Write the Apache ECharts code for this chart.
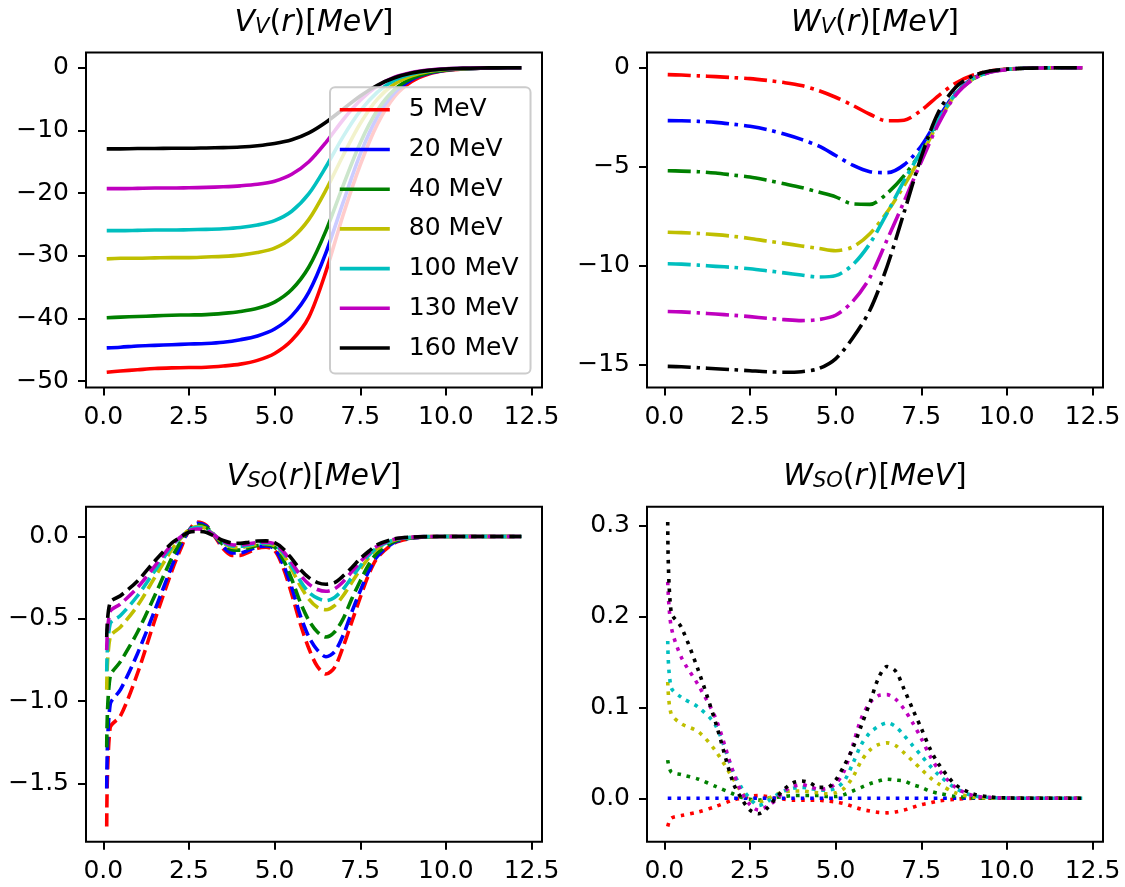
<!DOCTYPE html>
<html>
<head>
<meta charset="utf-8">
<script src="https://cdn.jsdelivr.net/npm/echarts@6/dist/echarts.min.js"></script>
<style>
  html, body { margin: 0; padding: 0; background: #ffffff; }
  #chart { width: 1125px; height: 887px; }
</style>
</head>
<body>
<div id="chart"></div>
<script>
// Radial grids (fm)
const R_V = [0.1, 0.5, 1, 1.5, 2, 2.5, 3, 3.5, 4, 4.5, 5, 5.5, 6, 6.5, 7, 7.5, 8, 8.5, 9, 9.5, 10, 10.5, 11, 11.5, 12.2];
const R_SO = [0.1, 0.2, 0.5, 1.0, 1.5, 2.0, 2.25, 2.5, 2.75, 3.0, 3.25, 3.5, 3.75, 4.0, 4.25, 4.5, 4.75, 5.0, 5.25, 5.5, 5.75, 6.0, 6.25, 6.5, 6.75, 7.0, 7.25, 7.5, 7.75, 8.0, 8.5, 9.0, 9.5, 10, 11, 12.2];

// Projectile energies
const ENERGY_LABELS = ['5 MeV', '20 MeV', '40 MeV', '80 MeV', '100 MeV', '130 MeV', '160 MeV'];

// Tick values
const X_TICKS = [0, 2.5, 5, 7.5, 10, 12.5];
const VV_TICKS = [-50, -40, -30, -20, -10, 0];
const WV_TICKS = [-15, -10, -5, 0];
const VSO_TICKS = [-1.5, -1.0, -0.5, 0];
const WSO_TICKS = [0, 0.1, 0.2, 0.3];

// Real volume potential V_V(r)
const VV_5   = [-48.6, -48.4, -48.2, -48.0, -47.9, -47.85, -47.8, -47.6, -47.3, -46.7, -45.6, -43.5, -39.8, -32.5, -23.5, -15.5, -9.0, -4.6, -2.2, -1.0, -0.45, -0.2, -0.08, -0.03, 0];
const VV_20  = [-44.7, -44.6, -44.4, -44.3, -44.2, -44.1, -44.0, -43.8, -43.4, -42.8, -41.7, -39.6, -35.8, -29.5, -21.5, -13.8, -7.8, -4.0, -1.9, -0.9, -0.4, -0.17, -0.07, -0.03, 0];
const VV_40  = [-39.9, -39.8, -39.7, -39.6, -39.5, -39.45, -39.4, -39.2, -38.9, -38.4, -37.4, -35.4, -31.8, -26.0, -18.8, -12.0, -6.8, -3.5, -1.7, -0.8, -0.35, -0.15, -0.06, -0.02, 0];
const VV_80  = [-30.5, -30.4, -30.4, -30.35, -30.3, -30.3, -30.2, -30.1, -29.9, -29.5, -28.8, -27.2, -24.2, -19.5, -14.0, -8.9, -5.0, -2.6, -1.3, -0.6, -0.27, -0.12, -0.05, -0.02, 0];
const VV_100 = [-26.0, -26.0, -25.95, -25.9, -25.9, -25.85, -25.8, -25.7, -25.5, -25.1, -24.4, -22.9, -20.1, -15.8, -11.0, -6.9, -3.9, -2.0, -1.0, -0.47, -0.21, -0.09, -0.04, -0.02, 0];
const VV_130 = [-19.3, -19.3, -19.25, -19.2, -19.2, -19.15, -19.1, -19.0, -18.85, -18.6, -18.1, -17.0, -15.0, -11.9, -8.3, -5.2, -2.9, -1.5, -0.75, -0.35, -0.16, -0.07, -0.03, -0.01, 0];
const VV_160 = [-12.95, -12.95, -12.9, -12.9, -12.85, -12.85, -12.8, -12.75, -12.65, -12.45, -12.1, -11.5, -10.4, -8.7, -6.6, -4.5, -2.8, -1.6, -0.85, -0.42, -0.2, -0.09, -0.04, -0.02, 0];

// Imaginary volume potential W_V(r)
const WV_5   = [-0.35, -0.37, -0.41, -0.45, -0.50, -0.55, -0.64, -0.75, -0.90, -1.15, -1.49, -1.90, -2.35, -2.68, -2.65, -2.15, -1.42, -0.78, -0.38, -0.17, -0.07, -0.03, -0.01, 0, 0];
const WV_20  = [-2.67, -2.68, -2.71, -2.76, -2.85, -2.96, -3.12, -3.35, -3.62, -3.95, -4.43, -4.92, -5.25, -5.30, -4.90, -3.95, -2.55, -1.28, -0.55, -0.21, -0.08, -0.03, -0.01, 0, 0];
const WV_40  = [-5.20, -5.22, -5.25, -5.32, -5.42, -5.52, -5.68, -5.86, -6.05, -6.28, -6.52, -6.88, -6.90, -6.35, -5.45, -4.25, -2.75, -1.35, -0.58, -0.22, -0.08, -0.03, -0.01, 0, 0];
const WV_80  = [-8.31, -8.33, -8.37, -8.43, -8.51, -8.62, -8.75, -8.87, -9.00, -9.12, -9.24, -9.05, -8.38, -7.30, -5.95, -4.45, -2.75, -1.35, -0.58, -0.22, -0.08, -0.03, -0.01, 0, 0];
const WV_100 = [-9.90, -9.92, -9.97, -10.03, -10.08, -10.15, -10.25, -10.36, -10.47, -10.57, -10.50, -9.95, -8.88, -7.35, -5.70, -4.20, -2.65, -1.32, -0.57, -0.22, -0.08, -0.03, -0.01, 0, 0];
const WV_130 = [-12.31, -12.33, -12.38, -12.44, -12.50, -12.57, -12.65, -12.72, -12.77, -12.72, -12.50, -11.80, -10.60, -8.70, -6.75, -4.75, -2.85, -1.40, -0.60, -0.23, -0.09, -0.03, -0.01, 0, 0];
const WV_160 = [-15.08, -15.10, -15.15, -15.20, -15.25, -15.30, -15.35, -15.38, -15.35, -15.20, -14.70, -13.65, -12.25, -10.05, -7.30, -4.50, -2.25, -1.00, -0.42, -0.17, -0.07, -0.03, -0.01, 0, 0];

// Real spin-orbit potential V_SO(r)
const VSO_5   = [-1.76, -1.16, -1.09, -0.83, -0.51, -0.21, -0.08, 0.035, 0.088, 0.068, 0.0, -0.075, -0.115, -0.115, -0.095, -0.072, -0.066, -0.085, -0.19, -0.35, -0.53, -0.68, -0.79, -0.835, -0.795, -0.67, -0.52, -0.37, -0.23, -0.13, -0.04, -0.012, -0.003, 0, 0, 0];
const VSO_20  = [-1.53, -1.02, -0.93, -0.71, -0.45, -0.18, -0.06, 0.035, 0.08, 0.063, 0.005, -0.062, -0.10, -0.10, -0.083, -0.063, -0.058, -0.075, -0.17, -0.31, -0.48, -0.61, -0.69, -0.73, -0.70, -0.60, -0.46, -0.33, -0.21, -0.12, -0.035, -0.01, -0.003, 0, 0, 0];
const VSO_40  = [-1.28, -0.85, -0.76, -0.58, -0.36, -0.13, -0.035, 0.035, 0.07, 0.055, 0.005, -0.05, -0.08, -0.083, -0.07, -0.055, -0.05, -0.065, -0.14, -0.26, -0.40, -0.51, -0.58, -0.61, -0.58, -0.50, -0.38, -0.27, -0.17, -0.10, -0.03, -0.008, -0.002, 0, 0, 0];
const VSO_80  = [-0.93, -0.61, -0.55, -0.42, -0.25, -0.08, -0.015, 0.04, 0.06, 0.048, 0.005, -0.04, -0.065, -0.068, -0.058, -0.047, -0.044, -0.055, -0.11, -0.20, -0.30, -0.38, -0.43, -0.445, -0.42, -0.36, -0.28, -0.20, -0.13, -0.075, -0.022, -0.006, -0.001, 0, 0, 0];
const VSO_100 = [-0.82, -0.53, -0.48, -0.36, -0.21, -0.06, -0.008, 0.04, 0.055, 0.045, 0.005, -0.035, -0.058, -0.06, -0.052, -0.042, -0.04, -0.05, -0.10, -0.18, -0.27, -0.34, -0.375, -0.39, -0.37, -0.32, -0.25, -0.18, -0.115, -0.067, -0.02, -0.005, -0.001, 0, 0, 0];
const VSO_130 = [-0.69, -0.455, -0.41, -0.31, -0.18, -0.05, -0.005, 0.035, 0.045, 0.038, 0.005, -0.03, -0.05, -0.052, -0.045, -0.037, -0.035, -0.045, -0.09, -0.16, -0.235, -0.29, -0.322, -0.333, -0.318, -0.275, -0.215, -0.155, -0.10, -0.058, -0.017, -0.004, -0.001, 0, 0, 0];
const VSO_160 = [-0.61, -0.40, -0.36, -0.27, -0.15, -0.04, -0.005, 0.025, 0.03, 0.025, 0.0, -0.025, -0.04, -0.042, -0.035, -0.028, -0.027, -0.038, -0.075, -0.135, -0.20, -0.25, -0.28, -0.29, -0.28, -0.24, -0.19, -0.135, -0.09, -0.05, -0.015, -0.004, -0.001, 0, 0, 0];

// Imaginary spin-orbit potential W_SO(r)
const WSO_5   = [-0.031, -0.022, -0.019, -0.015, -0.009, -0.002, 0.0, 0.002, 0.003, 0.002, 0.0, -0.001, -0.002, -0.002, -0.002, -0.002, -0.003, -0.004, -0.006, -0.009, -0.012, -0.014, -0.0155, -0.016, -0.015, -0.013, -0.010, -0.007, -0.005, -0.003, -0.001, 0, 0, 0, 0, 0];
const WSO_20  = [0, 0, 0, 0, 0, 0, 0, 0, 0, 0, 0, 0, 0, 0, 0, 0, 0, 0, 0, 0, 0, 0, 0, 0, 0, 0, 0, 0, 0, 0, 0, 0, 0, 0, 0, 0];
const WSO_40  = [0.042, 0.029, 0.026, 0.021, 0.013, 0.005, 0.001, -0.001, -0.002, 0.0, 0.001, 0.002, 0.003, 0.003, 0.003, 0.003, 0.002, 0.002, 0.004, 0.008, 0.012, 0.016, 0.019, 0.021, 0.020, 0.019, 0.015, 0.012, 0.008, 0.0055, 0.002, 0.0005, 0, 0, 0, 0];
const WSO_80  = [0.128, 0.093, 0.082, 0.073, 0.052, 0.022, 0.007, -0.002, -0.004, -0.001, 0.004, 0.007, 0.008, 0.008, 0.007, 0.006, 0.005, 0.006, 0.011, 0.023, 0.041, 0.053, 0.059, 0.061, 0.058, 0.050, 0.041, 0.032, 0.023, 0.016, 0.006, 0.0015, 0.0003, 0, 0, 0];
const WSO_100 = [0.173, 0.122, 0.111, 0.100, 0.080, 0.030, 0.012, 0.0, -0.008, -0.004, 0.003, 0.008, 0.011, 0.012, 0.011, 0.009, 0.009, 0.011, 0.019, 0.038, 0.059, 0.072, 0.079, 0.083, 0.079, 0.069, 0.058, 0.047, 0.036, 0.026, 0.011, 0.003, 0.0008, 0.0002, 0, 0];
const WSO_130 = [0.238, 0.189, 0.155, 0.124, 0.088, 0.030, 0.007, -0.007, -0.013, -0.009, -0.002, 0.008, 0.013, 0.015, 0.013, 0.010, 0.011, 0.016, 0.030, 0.058, 0.088, 0.105, 0.113, 0.114, 0.109, 0.098, 0.083, 0.066, 0.047, 0.032, 0.012, 0.003, 0.001, 0.0002, 0, 0];
const WSO_160 = [0.304, 0.205, 0.188, 0.140, 0.083, 0.018, 0.0, -0.013, -0.017, -0.011, 0.0, 0.010, 0.017, 0.019, 0.017, 0.012, 0.012, 0.020, 0.036, 0.055, 0.080, 0.105, 0.132, 0.145, 0.140, 0.120, 0.098, 0.077, 0.055, 0.038, 0.015, 0.005, 0.0015, 0.0004, 0, 0];

// ---- styling ----
const COLORS = ['#ff0000', '#0000ff', '#008000', '#bfbf00', '#00bfbf', '#bf00bf', '#000000'];
const LW = 3.6;
const FONT = 'DejaVu Sans';

const toMinus = s => s.replace('-', '\u2212');
const fmtInt = v => toMinus(String(Math.round(v)));
const fmtOne = v => toMinus((Math.abs(v) < 1e-9 ? 0 : v).toFixed(1));

// Axis limits padded by 5% of the data span on each side
function paddedRange(arrays) {
  let lo = Infinity, hi = -Infinity;
  arrays.forEach(a => a.forEach(v => { if (v < lo) lo = v; if (v > hi) hi = v; }));
  const pad = (hi - lo) * 0.05;
  return [lo - pad, hi + pad];
}

const PANELS = [
  { rect: { left: 86, top: 52.5 }, r: R_V, curves: [VV_5, VV_20, VV_40, VV_80, VV_100, VV_130, VV_160],
    yTicks: VV_TICKS, yFmt: fmtInt, dash: 'solid', sym: 'V', sub: 'V', key: 'VV' },
  { rect: { left: 647, top: 52.5 }, r: R_V, curves: [WV_5, WV_20, WV_40, WV_80, WV_100, WV_130, WV_160],
    yTicks: WV_TICKS, yFmt: fmtInt, dash: [23, 5.8, 3.6, 5.8], sym: 'W', sub: 'V', key: 'WV' },
  { rect: { left: 86, top: 506.7 }, r: R_SO, curves: [VSO_5, VSO_20, VSO_40, VSO_80, VSO_100, VSO_130, VSO_160],
    yTicks: VSO_TICKS, yFmt: fmtOne, dash: [13.3, 5.8], sym: 'V', sub: 'SO', key: 'VSO' },
  { rect: { left: 647, top: 506.7 }, r: R_SO, curves: [WSO_5, WSO_20, WSO_40, WSO_80, WSO_100, WSO_130, WSO_160],
    yTicks: WSO_TICKS, yFmt: fmtOne, dash: [3.6, 5.9], sym: 'W', sub: 'SO', key: 'WSO' }
];
const PANEL_W = 456, PANEL_H = 335;

const axisText = { fontSize: 25, fontFamily: FONT, color: '#000000' };
const tickStyle = { color: '#000000', width: 2 };

const grids = [], xAxes = [], yAxes = [], series = [], titles = [];

PANELS.forEach((p, i) => {
  grids.push({
    left: p.rect.left, top: p.rect.top, width: PANEL_W, height: PANEL_H,
    show: true, borderColor: '#000000', borderWidth: 2, backgroundColor: 'transparent',
    containLabel: false, outerBoundsMode: 'none'
  });
  const xr = paddedRange([p.r]);
  const yr = paddedRange(p.curves);
  xAxes.push({
    type: 'value', gridIndex: i, min: xr[0], max: xr[1],
    axisLine: { show: false, onZero: false },
    axisTick: { show: true, length: 8, lineStyle: tickStyle, customValues: X_TICKS },
    axisLabel: Object.assign({ customValues: X_TICKS, formatter: fmtOne, margin: 17 }, axisText),
    splitLine: { show: false }
  });
  yAxes.push({
    type: 'value', gridIndex: i, min: yr[0], max: yr[1],
    axisLine: { show: false, onZero: false },
    axisTick: { show: true, length: 8, lineStyle: tickStyle, customValues: p.yTicks },
    axisLabel: Object.assign({ customValues: p.yTicks, formatter: p.yFmt, margin: 17 }, axisText),
    splitLine: { show: false }
  });
  p.curves.forEach((vals, k) => {
    series.push({
      type: 'line',
      name: i === 0 ? ENERGY_LABELS[k] : p.key + ' ' + ENERGY_LABELS[k],
      xAxisIndex: i, yAxisIndex: i,
      data: p.r.map((r, j) => [r, vals[j]]),
      symbol: 'none', showSymbol: false, smooth: 0.3,
      lineStyle: { color: COLORS[k], width: LW, type: p.dash, cap: 'butt', join: 'round' },
      itemStyle: { color: COLORS[k] },
      emphasis: { disabled: true }, silent: true
    });
  });
  const cx = p.rect.left + PANEL_W / 2;
  titles.push({
    left: cx, top: p.rect.top - 44.5, textAlign: 'center', padding: 0,
    text: '{i|' + p.sym + '}{s|' + p.sub + '}{u|(}{i|r}{u|)[}{i|MeV}{u|]}',
    textStyle: {
      fontFamily: FONT, fontSize: 30, fontWeight: 'normal', color: '#000000', lineHeight: 30,
      rich: {
        i: { fontFamily: FONT, fontStyle: 'italic', fontWeight: 'normal', fontSize: 30, lineHeight: 30, color: '#000000' },
        u: { fontFamily: FONT, fontStyle: 'normal', fontWeight: 'normal', fontSize: 30, lineHeight: 30, color: '#000000' },
        s: { fontFamily: FONT, fontStyle: 'italic', fontWeight: 'normal', fontSize: 21, lineHeight: 17, verticalAlign: 'bottom', color: '#000000' }
      }
    }
  });
});

const chart = echarts.init(document.getElementById('chart'), null, { renderer: 'canvas' });
chart.setOption({
  animation: false,
  backgroundColor: '#ffffff',
  title: titles,
  grid: grids,
  xAxis: xAxes,
  yAxis: yAxes,
  legend: {
    data: ENERGY_LABELS,
    orient: 'vertical',
    left: 330, top: 87.3,
    itemWidth: 50, itemHeight: 25, itemGap: 14.7,
    padding: [10, 12, 13, 8],
    backgroundColor: 'rgba(255,255,255,0.8)',
    borderColor: '#cccccc', borderWidth: 2, borderRadius: 5,
    selectedMode: false,
    itemStyle: { opacity: 0, borderWidth: 0 },
    lineStyle: { width: LW, type: 'solid', cap: 'butt' },
    textStyle: { fontSize: 25, fontFamily: FONT, color: '#000000', lineHeight: 25, padding: [0, 0, 0, 14] }
  },
  series: series
});
</script>
</body>
</html>
